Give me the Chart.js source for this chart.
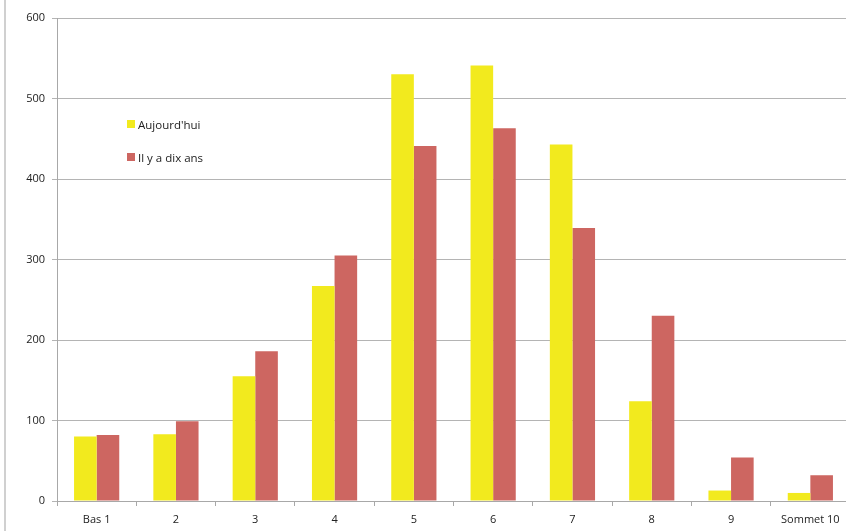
<!DOCTYPE html>
<html>
<head>
<meta charset="utf-8">
<script src="https://cdn.jsdelivr.net/npm/chart.js@4"></script>
<style>
html,body{margin:0;padding:0;background:#fff;overflow:hidden;}
#wrap{position:relative;width:846px;height:531px;overflow:hidden;}
#c{position:absolute;left:0;top:0;}
#leftline{position:absolute;left:4px;top:0;width:2px;height:531px;background:#d0d0d0;}
#legend{position:absolute;left:127px;top:116px;font-family:'Open Sans',sans-serif;font-size:11.5px;color:#222;}
#legend .item{display:flex;align-items:center;height:16px;margin-bottom:17px;}
#legend .sw{width:8px;height:8px;margin-right:3px;}
</style>
</head>
<body>
<div id="wrap">
<canvas id="c" width="850" height="531"></canvas>
<div id="leftline"></div>
<div id="legend"></div>
</div>
<script>
const categories = ["Bas 1","2","3","4","5","6","7","8","9","Sommet 10"];
const seriesNames = ["Aujourd'hui","Il y a dix ans"];
const aujourdhui = [80, 83, 155, 267, 530, 541, 443, 124, 13, 10];
const ilYaDixAns = [82, 99, 186, 305, 441, 463, 339, 230, 54, 32];
const yTicks = [0,100,200,300,400,500,600];
const colors = ["#F2EA1E","#CD6661"];

const font = {family:"'Open Sans', sans-serif", size:11};
const chart = new Chart(document.getElementById('c'), {
  type:'bar',
  data:{
    labels:categories,
    datasets:[
      {label:seriesNames[0], data:aujourdhui, backgroundColor:colors[0], categoryPercentage:0.57, barPercentage:1},
      {label:seriesNames[1], data:ilYaDixAns, backgroundColor:colors[1], categoryPercentage:0.57, barPercentage:1}
    ]
  },
  options:{
    responsive:false,
    animation:false,
    devicePixelRatio:1,
    layout:{padding:{top:18,right:0,bottom:0,left:0}},
    plugins:{legend:{display:false},tooltip:{enabled:false}},
    scales:{
      x:{
        grid:{offset:true,drawOnChartArea:false,tickLength:5,color:'#a8a8a8'},
        border:{color:'#a8a8a8'},
        ticks:{font:font,color:'#222',padding:7,maxRotation:0,autoSkip:false},
        afterFit:s=>{s.height=30;}
      },
      y:{
        min:0,max:600,
        afterBuildTicks:s=>{s.ticks=yTicks.map(v=>({value:v}));},
        grid:{color:'#b4b4b4',tickLength:5},
        border:{color:'#a8a8a8'},
        ticks:{font:font,color:'#222',padding:7},
        afterFit:s=>{s.width=57;}
      }
    }
  }
});

const lg = document.getElementById('legend');
chart.data.datasets.forEach(ds=>{
  const it=document.createElement('div');it.className='item';
  const sw=document.createElement('div');sw.className='sw';sw.style.background=ds.backgroundColor;
  const t=document.createElement('span');t.textContent=ds.label;
  it.appendChild(sw);it.appendChild(t);lg.appendChild(it);
});
</script>
</body>
</html>
